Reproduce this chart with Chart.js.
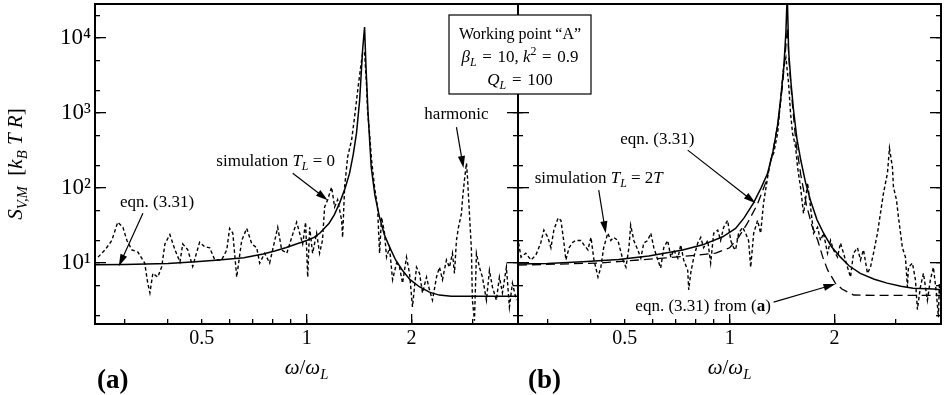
<!DOCTYPE html>
<html>
<head>
<meta charset="utf-8">
<script src="https://cdn.jsdelivr.net/npm/chart.js@4.4.1/dist/chart.umd.min.js"></script>
<style>
  html, body { margin: 0; padding: 0; background: #fff; }
  #wrap { position: relative; width: 945px; height: 395px; }
  #wrap canvas { position: absolute; left: 0; top: 0; }
</style>
</head>
<body>
<div id="wrap">
  <canvas id="panelA" width="945" height="395"></canvas>
  <canvas id="panelB" width="945" height="395"></canvas>
</div>
<script>
// ---- data ----
const xLabelTicks = [0.5, 1, 2];
const xMinorTicks = [0.3, 0.4, 0.5, 0.6, 0.7, 0.8, 0.9, 3];
const xMajorTicks = [1, 2];
const yMajorTicks = [10, 100, 1000, 10000];
const yMinorTicks = [2, 5, 20, 50, 200, 500, 2000, 5000, 20000];
const yTickText = { 10: '10¹', 100: '10²', 1000: '10³', 10000: '10⁴' };

// (a) eqn. (3.31), T_L = 0
const theoryAFreq = [0.247, 0.3, 0.4, 0.48, 0.56, 0.66, 0.75, 0.81, 0.87, 0.93, 1.0, 1.05, 1.09, 1.16, 1.2, 1.243, 1.29, 1.328, 1.36, 1.39, 1.419, 1.447, 1.466, 1.48, 1.5, 1.532, 1.57, 1.618, 1.67, 1.73, 1.8, 1.88, 1.98, 2.11, 2.25, 2.4, 2.6, 2.87, 3.3, 4.04];
const theoryAVal  = [9.5, 9.6, 9.9, 10.4, 11, 11.8, 13.2, 14.5, 16, 17.8, 20, 22, 25, 34, 44, 63, 100, 158, 280, 540, 1480, 6900, 14000, 4100, 1000, 190, 80, 41, 24, 16.3, 11, 8.1, 6, 4.8, 4.1, 3.74, 3.62, 3.6, 3.6, 3.6];

// (a) simulation T_L = 0
const simAFreq = [0.252, 0.264, 0.276, 0.287, 0.297, 0.305, 0.315, 0.328, 0.343, 0.35, 0.355, 0.362, 0.374, 0.384, 0.392, 0.405, 0.419, 0.433, 0.441, 0.456, 0.471, 0.493, 0.51, 0.527, 0.545, 0.57, 0.59, 0.601, 0.614, 0.63, 0.651, 0.673, 0.696, 0.719, 0.733, 0.758, 0.783, 0.81, 0.826, 0.848, 0.877, 0.906, 0.936, 0.955, 0.974, 0.993, 1.007, 1.02, 1.04, 1.068, 1.089, 1.11, 1.126, 1.149, 1.179, 1.203, 1.227, 1.26, 1.268, 1.285, 1.311, 1.346, 1.373, 1.391, 1.409, 1.437, 1.447, 1.466, 1.486, 1.495, 1.515, 1.535, 1.566, 1.597, 1.619, 1.64, 1.673, 1.695, 1.729, 1.764, 1.811, 1.847, 1.884, 1.934, 1.973, 2.012, 2.066, 2.108, 2.15, 2.207, 2.251, 2.296, 2.358, 2.405, 2.453, 2.518, 2.568, 2.62, 2.655, 2.69, 2.726, 2.781, 2.799, 2.836, 2.874, 2.893, 2.931, 2.97, 2.989, 3.03, 3.07, 3.131, 3.194, 3.28, 3.345, 3.412, 3.502, 3.573, 3.645, 3.742, 3.817, 3.894, 3.997];
const simAVal  = [12, 15, 20, 35, 30, 20, 15, 14, 10, 5.4, 4, 7.3, 6.5, 9, 18, 24, 15, 10.3, 18, 15, 9, 19, 16.5, 16, 11, 11, 15, 29, 25, 6.5, 20, 29, 18, 16, 10, 13.5, 10, 20, 30, 15, 13.5, 22, 35, 25, 18, 35, 6.5, 30, 13.5, 25, 13.5, 20, 56, 70, 103, 56, 70, 37, 22, 103, 260, 440, 900, 1500, 2500, 5000, 6300, 6500, 2250, 1100, 540, 240, 103, 56, 13.5, 41, 25, 12, 16, 6, 10, 8.8, 5.4, 12, 7.3, 2.6, 8.8, 7.3, 4, 6.5, 4.4, 3.2, 6.5, 8.8, 6, 11, 8.8, 13.5, 7.3, 20, 30, 46, 70, 128, 215, 140, 46, 15, 3.2, 1.7, 13.5, 8.8, 6.5, 3.2, 8, 4.8, 3.2, 6.5, 4, 8.8, 2.6, 5.4, 3.2];

// (b) eqn. (3.31), T_L = 2T
const theoryBFreq = [0.247, 0.3, 0.379, 0.48, 0.586, 0.733, 0.837, 0.955, 1.04, 1.1, 1.17, 1.23, 1.285, 1.33, 1.37, 1.4, 1.43, 1.45, 1.463, 1.476, 1.5, 1.525, 1.56, 1.6, 1.65, 1.705, 1.78, 1.86, 1.96, 2.08, 2.2, 2.37, 2.6, 2.83, 3.1, 3.36, 3.84, 4.04];
const theoryBVal  = [9.7, 9.9, 10.4, 11.2, 12.4, 14.9, 17.5, 22.4, 29, 40, 63, 100, 158, 300, 650, 1500, 4100, 12000, 40000, 6900, 2500, 1100, 450, 235, 120, 69, 38, 25, 16.5, 12, 9.2, 7.3, 6.1, 5.4, 4.9, 4.6, 4.5, 4.4];

// (b) eqn. (3.31) from (a)
const fromAFreq = [0.247, 0.42, 0.656, 0.815, 0.912, 1.0, 1.06, 1.12, 1.2, 1.27, 1.33, 1.38, 1.42, 1.45, 1.466, 1.48, 1.51, 1.55, 1.6, 1.66, 1.72, 1.79, 1.85, 1.91, 2.01, 2.1, 2.18, 2.27, 2.6, 3.2, 4.04];
const fromAVal  = [9.4, 10, 11.7, 12.8, 13.6, 16, 22, 33, 60, 120, 300, 800, 2500, 8000, 14000, 5000, 1500, 400, 150, 60, 32, 20, 12, 8.1, 5.4, 4.5, 4.1, 3.75, 3.7, 3.7, 3.7];

// (b) simulation T_L = 2T
const simBFreq = [0.248, 0.252, 0.26, 0.269, 0.278, 0.287, 0.293, 0.301, 0.307, 0.313, 0.322, 0.328, 0.334, 0.339, 0.346, 0.355, 0.362, 0.374, 0.382, 0.392, 0.4, 0.408, 0.419, 0.427, 0.435, 0.447, 0.456, 0.465, 0.478, 0.494, 0.504, 0.514, 0.52, 0.531, 0.545, 0.556, 0.567, 0.582, 0.594, 0.606, 0.622, 0.634, 0.647, 0.664, 0.678, 0.691, 0.71, 0.724, 0.738, 0.758, 0.763, 0.773, 0.789, 0.81, 0.826, 0.842, 0.865, 0.882, 0.9, 0.924, 0.942, 0.961, 0.987, 1.007, 1.027, 1.04, 1.061, 1.089, 1.111, 1.133, 1.149, 1.172, 1.203, 1.227, 1.251, 1.285, 1.311, 1.337, 1.373, 1.4, 1.428, 1.45, 1.476, 1.495, 1.515, 1.546, 1.566, 1.597, 1.629, 1.651, 1.673, 1.706, 1.741, 1.787, 1.823, 1.859, 1.909, 1.947, 1.986, 2.039, 2.08, 2.122, 2.178, 2.222, 2.266, 2.327, 2.373, 2.421, 2.485, 2.535, 2.586, 2.655, 2.708, 2.762, 2.836, 2.874, 2.931, 2.951, 3.01, 3.05, 3.131, 3.194, 3.236, 3.258, 3.345, 3.412, 3.457, 3.526, 3.597, 3.693, 3.767, 3.842, 3.919, 3.971, 3.997, 4.04];
const simBVal  = [18.5, 12, 13.5, 11, 12.8, 18.5, 27.5, 22, 16, 27.5, 40, 37, 20, 11, 16, 19, 20, 20, 17.5, 15, 22, 11, 6.5, 8.8, 16, 25, 20, 22, 20, 11, 8.8, 16, 32, 20, 15, 11.6, 18.5, 20, 25, 16, 11, 8.6, 16, 20, 12, 15, 11.6, 17.5, 11, 8, 4.4, 7.3, 12, 18.5, 22, 16, 20, 10, 25, 27.5, 20, 30, 37, 20, 16, 15, 25, 30, 25, 20, 8.8, 25, 37, 25, 63, 140, 235, 290, 540, 1500, 4100, 5500, 2500, 1000, 540, 350, 190, 103, 46, 70, 117, 56, 25, 30, 20, 25, 13.5, 20, 15, 12, 18.5, 13.5, 8.8, 6.5, 13.5, 16, 11, 15, 7.3, 8.8, 13.5, 25, 46, 85, 158, 340, 190, 103, 70, 41, 16, 12, 4.8, 8.8, 10, 6, 2.4, 4.8, 7.3, 3.2, 6, 8.8, 4, 1.9, 5.4, 3];

// annotations: text centre, arrow tail, arrow tip (data coordinates)
const notesA = [
  { parts: [['eqn. (3.31)', '']], at: [0.372, 67], from: [0.339, 46], to: [0.289, 9.1] },
  { parts: [['simulation ', ''], ['T', 'i'], ['L', 'is'], [' = 0', '']], at: [0.815, 236], from: [0.912, 158], to: [1.149, 69] },
  { parts: [['harmonic', '']], at: [2.69, 1000], from: [2.69, 650], to: [2.818, 185] }
];
const notesB = [
  { parts: [['simulation ', ''], ['T', 'i'], ['L', 'is'], [' = 2', ''], ['T', 'i']], at: [0.421, 140], from: [0.421, 94], to: [0.441, 25] },
  { parts: [['eqn. (3.31)', '']], at: [0.62, 464], from: [0.758, 321], to: [1.187, 63] },
  { parts: [['eqn. (3.31) from (', ''], ['a', 'b'], [')', '']], at: [0.839, 2.75], from: [1.337, 3.02], to: [2.012, 5.25] }
];

const SERIF = '"Liberation Serif", "DejaVu Serif", serif';
const X_RANGE = [0.247, 4.04];
const Y_RANGE = [1.54, 28500];
const EQ = '\u2004=\u2004';

function pts(xs, ys) { return xs.map((x, i) => ({ x: x, y: ys[i] })); }

function drawRich(ctx, parts, x, y, size, align) {
  const fontFor = (st) => {
    const small = st.includes('s') || st.includes('p');
    return (st.includes('i') ? 'italic ' : '') + (st.includes('b') ? 'bold ' : '') +
      (small ? size * 0.7 : size) + 'px ' + SERIF;
  };
  let total = 0;
  parts.forEach(p => { ctx.font = fontFor(p[1]); total += ctx.measureText(p[0]).width; });
  let cx = align === 'center' ? x - total / 2 : (align === 'right' ? x - total : x);
  ctx.textAlign = 'left';
  ctx.textBaseline = 'alphabetic';
  ctx.fillStyle = '#000';
  parts.forEach(p => {
    ctx.font = fontFor(p[1]);
    let dy = 0;
    if (p[1].includes('s')) dy = size * 0.22;
    if (p[1].includes('p')) dy = -size * 0.4;
    ctx.fillText(p[0], cx, y + dy);
    cx += ctx.measureText(p[0]).width;
  });
}

function arrow(ctx, x1, y1, x2, y2) {
  const a = Math.atan2(y2 - y1, x2 - x1), L = 12, W = 3.6;
  ctx.strokeStyle = '#000';
  ctx.fillStyle = '#000';
  ctx.lineWidth = 1.2;
  ctx.beginPath();
  ctx.moveTo(x1, y1);
  ctx.lineTo(x2 - L * 0.8 * Math.cos(a), y2 - L * 0.8 * Math.sin(a));
  ctx.stroke();
  ctx.beginPath();
  ctx.moveTo(x2, y2);
  ctx.lineTo(x2 - L * Math.cos(a) + W * Math.sin(a), y2 - L * Math.sin(a) - W * Math.cos(a));
  ctx.lineTo(x2 - L * Math.cos(a) - W * Math.sin(a), y2 - L * Math.sin(a) + W * Math.cos(a));
  ctx.closePath();
  ctx.fill();
}

// one log axis; ticks point into the plot (negative tick length)
function logAxis(pos, range, ticks, len, size, weight, labelFn, padding, fontSize) {
  const horiz = pos === 'bottom';
  return {
    type: 'logarithmic', position: pos, weight: weight,
    min: range[0], max: range[1], bounds: 'data',
    border: { display: false },
    grid: { drawOnChartArea: false, drawTicks: true, tickLength: len, color: '#000', tickWidth: 1.3, lineWidth: 1.3 },
    ticks: {
      display: !!labelFn, autoSkip: false, maxRotation: 0, padding: padding || 0,
      color: '#000', font: { family: SERIF, size: fontSize || 20 },
      callback: (v) => labelFn ? labelFn(v) : ''
    },
    afterBuildTicks: (s) => { s.ticks = ticks.map(v => ({ value: v })); },
    afterFit: (s) => {
      if (horiz) s.height = size; else s.width = size;
      s.paddingTop = 0; s.paddingBottom = 0; s.paddingLeft = 0; s.paddingRight = 0;
    }
  };
}

const framePlugin = {
  id: 'frame',
  afterDraw(chart) {
    const a = chart.chartArea, ctx = chart.ctx;
    ctx.save();
    ctx.strokeStyle = '#000';
    ctx.lineWidth = 2;
    ctx.strokeRect(a.left, a.top, a.right - a.left, a.bottom - a.top);
    ctx.restore();
  }
};

function notesPlugin(notes, tag, extra) {
  return {
    id: 'notes' + tag,
    afterDraw(chart) {
      const ctx = chart.ctx, sx = chart.scales.x, sy = chart.scales.y, a = chart.chartArea;
      ctx.save();
      notes.forEach(n => {
        drawRich(ctx, n.parts, sx.getPixelForValue(n.at[0]), sy.getPixelForValue(n.at[1]) + 6, 17, 'center');
        arrow(ctx, sx.getPixelForValue(n.from[0]), sy.getPixelForValue(n.from[1]),
          sx.getPixelForValue(n.to[0]), sy.getPixelForValue(n.to[1]));
      });
      const mid = (a.left + a.right) / 2;
      drawRich(ctx, [['ω', 'i'], ['/', ''], ['ω', 'i'], ['L', 'is']], mid, 374, 21, 'center');
      drawRich(ctx, [['(' + tag + ')', 'b']], a.left + (tag === 'a' ? 2 : 10), 388, 27, 'left');
      if (extra) extra(ctx, a);
      ctx.restore();
    }
  };
}

function makeChart(id, datasets, padding, leftLabels, notes, tag, extra) {
  const yLab = leftLabels ? (v) => yTickText[v] || '' : null;
  return new Chart(document.getElementById(id), {
    type: 'line',
    data: { datasets: datasets },
    options: {
      responsive: false,
      animation: false,
      layout: { padding: padding },
      plugins: { legend: { display: false }, tooltip: { enabled: false } },
      elements: { point: { radius: 0 }, line: { tension: 0 } },
      scales: {
        x: logAxis('bottom', X_RANGE, xMinorTicks.concat(xMajorTicks), -5, 71, 1,
          (v) => xLabelTicks.includes(v) ? String(v) : '', 8),
        xl: logAxis('bottom', X_RANGE, xMajorTicks, -10, 0, 0),
        y: logAxis('left', Y_RANGE, yMinorTicks.concat(yMajorTicks), -5, leftLabels ? 95 : 0, 1, yLab, 9, 23),
        yl: logAxis('left', Y_RANGE, yMajorTicks, -11, 0, 0),
        yr: logAxis('right', Y_RANGE, yMinorTicks.concat(yMajorTicks), -5, 0, 0),
        yrl: logAxis('right', Y_RANGE, yMajorTicks, -11, 0, 1)
      }
    },
    plugins: [framePlugin, notesPlugin(notes, tag, extra)]
  });
}

function series(data, dash, width) {
  return { data: data, borderColor: '#000', borderWidth: width, borderDash: dash, fill: false, pointRadius: 0, xAxisID: 'x', yAxisID: 'y' };
}

makeChart('panelA', [
  series(pts(simAFreq, simAVal), [3.5, 2.5], 1.4),
  series(pts(theoryAFreq, theoryAVal), [], 1.5)
], { left: 0, right: 427, top: 4, bottom: 0 }, true, notesA, 'a', (ctx) => {
  ctx.translate(22, 164);
  ctx.rotate(-Math.PI / 2);
  drawRich(ctx, [['S', 'i'], ['V,M', 'is'], ['  [', ''], ['k', 'i'], ['B', 'is'], [' T R', 'i'], [']', '']], 0, 0, 21, 'center');
});

makeChart('panelB', [
  series(pts(simBFreq, simBVal), [3.5, 2.5], 1.4),
  series(pts(fromAFreq, fromAVal), [9, 5], 1.3),
  series(pts(theoryBFreq, theoryBVal), [], 1.5)
], { left: 518, right: 4, top: 4, bottom: 0 }, false, notesB, 'b', (ctx, a) => {
  // parameter box straddling the two panels
  const cx = a.left + 2, top = a.top + 11, w = 142, h = 79;
  ctx.fillStyle = '#fff';
  ctx.fillRect(cx - w / 2, top, w, h);
  ctx.strokeStyle = '#000';
  ctx.lineWidth = 1.2;
  ctx.strokeRect(cx - w / 2, top, w, h);
  drawRich(ctx, [['Working point “A”', '']], cx, top + 24, 16, 'center');
  drawRich(ctx, [['β', 'i'], ['L', 'is'], [EQ + '10, ', ''], ['k', 'i'], ['2', 'p'], [EQ + '0.9', '']], cx, top + 47, 17, 'center');
  drawRich(ctx, [['Q', 'i'], ['L', 'is'], [EQ + '100', '']], cx, top + 70, 17, 'center');
});
</script>
</body>
</html>
